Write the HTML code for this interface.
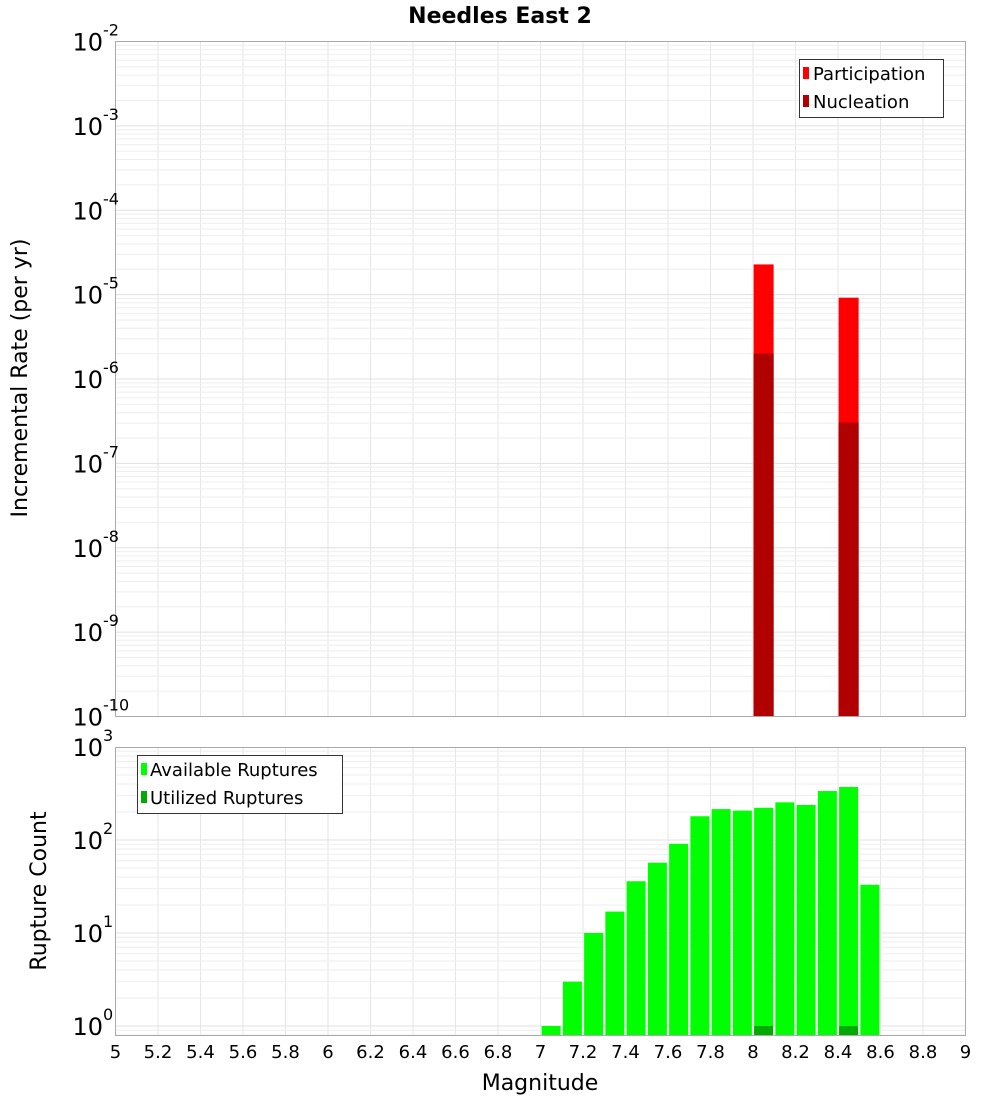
<!DOCTYPE html>
<html><head><meta charset="utf-8"><style>
html,body{margin:0;padding:0;background:#fff;width:1000px;height:1100px;overflow:hidden}
svg{font-family:"DejaVu Sans","Liberation Sans",sans-serif}
</style></head><body>
<svg id="chart" width="1000" height="1100" xmlns="http://www.w3.org/2000/svg">
<text x="500" y="23" text-anchor="middle" font-size="22" font-weight="bold">Needles East 2</text>
<g id="gtop"></g>
<g id="gbot"></g>
<text transform="translate(27,378) rotate(-90)" text-anchor="middle" font-size="22">Incremental Rate (per yr)</text>
<text transform="translate(46,891) rotate(-90)" text-anchor="middle" font-size="22">Rupture Count</text>
<text x="540" y="1090" text-anchor="middle" font-size="22">Magnitude</text>
<g>
<rect x="799.5" y="59.5" width="144" height="58" fill="#fff" stroke="#333"/>
<rect x="803" y="67" width="6" height="12" fill="#ff0000"/>
<text x="813" y="80" font-size="18">Participation</text>
<rect x="803" y="95" width="6" height="12" fill="#b00000"/>
<text x="813" y="108" font-size="18">Nucleation</text>
</g>
<g>
<rect x="137.5" y="755.5" width="205" height="58" fill="#fff" stroke="#333"/>
<rect x="141" y="763" width="6" height="12" fill="#00ff00"/>
<text x="150" y="776" font-size="18">Available Ruptures</text>
<rect x="141" y="791" width="6" height="12" fill="#00aa00"/>
<text x="150" y="804" font-size="18">Utilized Ruptures</text>
</g>
</svg>
<script>
const xTicks=[5,5.2,5.4,5.6,5.8,6,6.2,6.4,6.6,6.8,7,7.2,7.4,7.6,7.8,8,8.2,8.4,8.6,8.8,9];
const rateMags=[8.05,8.45];
const participation=[2.28e-5,9.2e-6];
const nucleation=[2.0e-6,3.05e-7];
const countMags=[7.05,7.15,7.25,7.35,7.45,7.55,7.65,7.75,7.85,7.95,8.05,8.15,8.25,8.35,8.45,8.55];
const available=[1,3,10,17,36,57,91,180,215,207,222,254,238,336,372,33];
const utilizedMags=[8.05,8.45];
const utilized=[1,1];
const topExps=[-2,-3,-4,-5,-6,-7,-8,-9,-10];
const botExps=[3,2,1,0];

const NS='http://www.w3.org/2000/svg';
const X0=115.5,X1=965.5;
const xs=m=>X0+(m-5)/4*(X1-X0);
const TY0=41.5,TY1=716.5;
const ty=v=>TY0+(-2-Math.log10(v))/8*(TY1-TY0);
const BY0=747.5,BY1=1035.5;
const by=v=>1026-Math.log10(v)*93;
function mk(p,tag,at,txt){const e=document.createElementNS(NS,tag);for(const k in at)e.setAttribute(k,at[k]);if(txt!==undefined)e.textContent=txt;p.appendChild(e);return e;}
const gTop=document.getElementById('gtop'),gBot=document.getElementById('gbot');

function grid(g,y0,y1,yf,decs){
  mk(g,'rect',{x:X0,y:y0,width:X1-X0,height:y1-y0,fill:'#fff'});
  xTicks.forEach(t=>{mk(g,'line',{x1:xs(t),x2:xs(t),y1:y0,y2:y1,stroke:'#e6e6e6'});});
  decs.forEach(d=>{for(let k=1;k<=9;k++){const y=yf(k*Math.pow(10,d));if(y>=y0&&y<=y1)mk(g,'line',{x1:X0,x2:X1,y1:y,y2:y,stroke:k==1?'#e0e0e0':'#eeeeee'});}});
}
grid(gTop,TY0,TY1,ty,[-10,-9,-8,-7,-6,-5,-4,-3,-2]);
grid(gBot,BY0,BY1,by,[-1,0,1,2]);

const bw=20;
rateMags.forEach((m,i)=>{
  const r=mk(gTop,'rect',{x:xs(m)-bw/2,y:ty(participation[i]),width:bw,height:TY1-ty(participation[i]),fill:'#ff0000'});
  
  
  const n=mk(gTop,'rect',{x:xs(m)-bw/2,y:ty(nucleation[i]),width:bw,height:TY1-ty(nucleation[i]),fill:'#b00000'});
  
  
});
mk(gTop,'rect',{x:X0,y:TY0,width:X1-X0,height:TY1-TY0,fill:'none',stroke:'#aaa'});
topExps.forEach(e=>{const y=ty(Math.pow(10,e));
  const t=mk(gTop,'text',{x:103,y:y+9,'text-anchor':'end','font-size':24},'10');
  
  
  mk(gTop,'text',{x:103,y:y-6,'font-size':16},String(e));
});

countMags.forEach((m,i)=>{
  const r=mk(gBot,'rect',{x:xs(m)-9.5,y:by(available[i]),width:19,height:BY1-by(available[i]),fill:'#00ff00'});
  
  
});
utilizedMags.forEach((m,i)=>{
  const r=mk(gBot,'rect',{x:xs(m)-9.5,y:by(utilized[i]),width:19,height:BY1-by(utilized[i]),fill:'#00aa00'});
  
  
});
mk(gBot,'rect',{x:X0,y:BY0,width:X1-X0,height:BY1-BY0,fill:'none',stroke:'#aaa'});
botExps.forEach(e=>{const y=by(Math.pow(10,e));
  const t=mk(gBot,'text',{x:103,y:y+9,'text-anchor':'end','font-size':24},'10');
  
  
  mk(gBot,'text',{x:103,y:y-6,'font-size':16},String(e));
});
xTicks.forEach(t=>{
  const l=mk(gBot,'text',{x:xs(t),y:1058,'text-anchor':'middle','font-size':18},String(t));
  
  
});
</script>
</body></html>
